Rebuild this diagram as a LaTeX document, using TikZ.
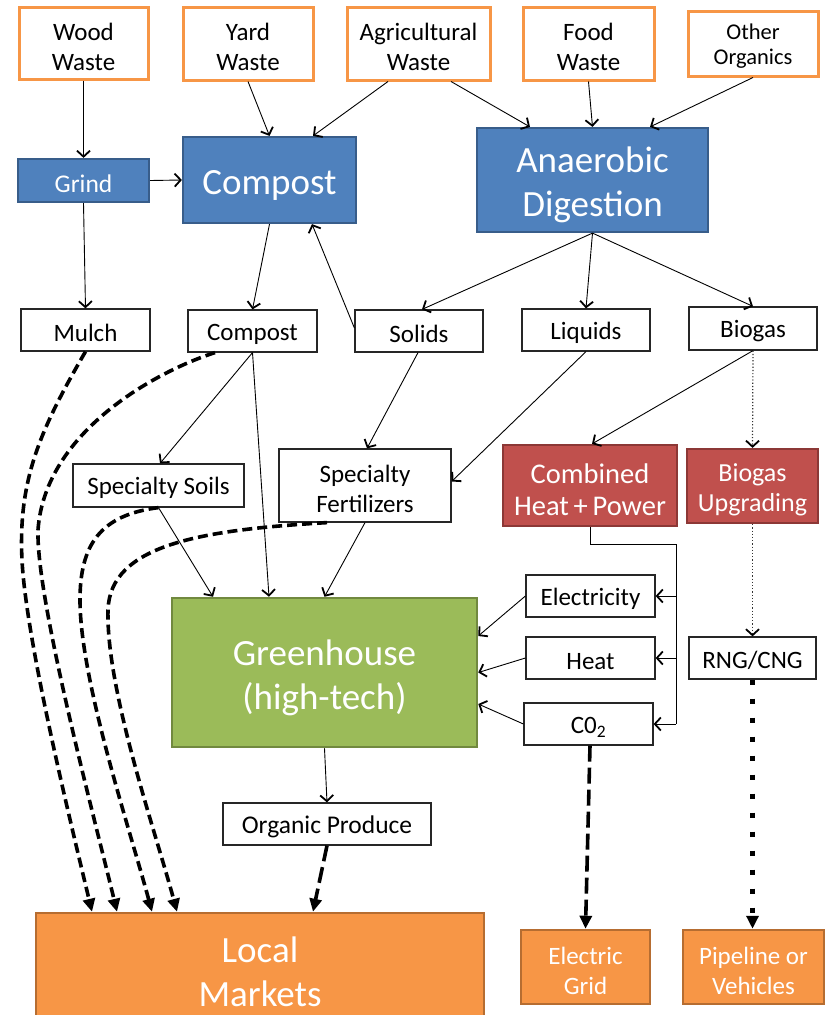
\documentclass[tikz,border=0pt]{standalone}
\usepackage{fontspec}
\setmainfont{Carlito}
\usetikzlibrary{arrows.meta,calc}
\definecolor{orng}{HTML}{F79646}
\definecolor{orngdk}{HTML}{B66D31}
\definecolor{blu}{HTML}{4F81BD}
\definecolor{bludk}{HTML}{385D8A}
\definecolor{redf}{HTML}{C0504D}
\definecolor{reddk}{HTML}{8C3836}
\definecolor{grn}{HTML}{9BBB59}
\definecolor{grndk}{HTML}{71893F}
\newcommand\fl{\rule{0pt}{0.97em}}
\begin{document}
\begin{tikzpicture}[x=1pt,y=-1pt,
  box/.style={draw=black!85, rectangle, inner sep=0pt, align=center,
    font=\fontsize{25}{30}\selectfont, line width=1.2pt,
    execute at begin node={\rule{0pt}{0.92em}}},
  srcbox/.style={box, draw=orng, line width=3pt},
  bluebox/.style={box, fill=blu, draw=bludk, line width=2.2pt, text=white},
  redbox/.style={box, fill=redf, draw=reddk, line width=2.2pt, text=white},
  grnbox/.style={box, fill=grn, draw=grndk, line width=2.5pt, text=white},
  orbox/.style={box, fill=orng, draw=orngdk, line width=2.5pt, text=white},
  bigtxt/.style={font=\fontsize{37}{44}\selectfont},
  arr/.style={-{Straight Barb[length=6pt,width=13pt,line width=1.8pt]}, line width=0.9pt},
  dotarr/.style={-{Straight Barb[length=6pt,width=13pt,line width=1.8pt,color=black]}, draw=black!80, line width=1.2pt, dash pattern=on 1.2pt off 2pt},
  dsh/.style={-{Triangle[length=13pt,width=12pt]}, line width=3.6pt, dash pattern=on 10pt off 5pt},
  dshlong/.style={dsh, dash pattern=on 16pt off 6pt},
  dotthick/.style={-{Triangle[length=13pt,width=12pt]}, line width=5pt, dash pattern=on 5pt off 14pt},
]
\useasboundingbox (0,0) rectangle (827,1015);
\clip (0,0) rectangle (827,1015);

% sources
\node[srcbox, minimum width=129pt, minimum height=72pt] (wood) at (83.5,43) {\fl Wood\\Waste};
\node[srcbox, minimum width=130pt, minimum height=73pt] (yard) at (248,43.5) {\fl Yard\\Waste};
\node[srcbox, minimum width=143pt, minimum height=73pt] (agri) at (418.5,43.5) {\fl Agricultural\\Waste};
\node[srcbox, minimum width=131pt, minimum height=73pt] (food) at (588.5,43.5) {\fl Food\\Waste};
\node[srcbox, minimum width=130pt, minimum height=65pt, font=\fontsize{22.5}{25}\selectfont] (other) at (753,43.5) {\fl Other\\Organics};

% processes
\node[bluebox, minimum width=131pt, minimum height=43pt, font=\fontsize{25.5}{30}\selectfont] (grind) at (83.5,180.5) {Grind};
\node[bluebox, bigtxt, minimum width=173pt, minimum height=86pt] (compost) at (269.5,180) {Compost};
\node[bluebox, bigtxt, minimum width=231pt, minimum height=104pt] (ad) at (592.5,180) {\fl Anaerobic\\Digestion};

% products
\node[box, minimum width=129pt, minimum height=42pt] (mulch) at (85.5,330) {Mulch};
\node[box, minimum width=129pt, minimum height=42pt] (compostS) at (252.5,331) {Compost};
\node[box, minimum width=128pt, minimum height=42pt] (solids) at (419,331) {Solids};
\node[box, minimum width=128pt, minimum height=42pt] (liquids) at (586,330) {Liquids};
\node[box, minimum width=128pt, minimum height=43pt] (biogas) at (753,328.5) {Biogas};

\node[box, minimum width=171pt, minimum height=43pt] (soils) at (158.5,485.5) {Specialty Soils};
\node[box, minimum width=172pt, minimum height=73pt] (fert) at (365,485.5) {\fl Specialty\\Fertilizers};
\node[redbox, minimum width=174pt, minimum height=81pt, font=\fontsize{28.5}{32}\selectfont] (chp) at (590,485.5) {\fl Combined\\Heat\,+\,Power};
\node[redbox, minimum width=131pt, minimum height=74pt, font=\fontsize{26}{30}\selectfont] (upg) at (752.5,486) {\fl Biogas\\Upgrading};

\node[grnbox, bigtxt, minimum width=305pt, minimum height=149pt] (gh) at (324.5,672.5) {\fl Greenhouse\\(high-tech)};
\node[box, minimum width=129pt, minimum height=42pt] (elec) at (590.5,596) {Electricity};
\node[box, minimum width=129pt, minimum height=42pt] (heat) at (590.5,658) {Heat};
\node[box, minimum width=129pt, minimum height=42pt] (co2) at (588.5,724) {C0\textsubscript{2}};
\node[box, minimum width=127pt, minimum height=42pt] (rng) at (752.5,658) {RNG/CNG};

\node[box, minimum width=208pt, minimum height=42pt, font=\fontsize{25.5}{30}\selectfont] (produce) at (327,824) {Organic Produce};

% markets
\node[orbox, bigtxt, minimum width=448pt, minimum height=107pt] (local) at (260,966.5) {\fl Local\\Markets};
\node[orbox, minimum width=129pt, minimum height=74pt] (egrid) at (585.5,967) {\fl Electric\\Grid};
\node[orbox, minimum width=141pt, minimum height=74pt] (pipe) at (753.5,967) {\fl Pipeline or\\Vehicles};

% thin arrows
\draw[arr] (wood.south) -- (grind.north);
\draw[arr] (yard.south) -- (compost.north);
\draw[arr] ([xshift=-30.5pt]agri.south) -- ([xshift=43.5pt]compost.north);
\draw[arr] (grind.east) -- (compost.west);
\draw[arr] (grind.south) -- (mulch.north);
\draw[arr] (compost.south) -- (compostS.north);
\draw[arr] ([yshift=3pt]solids.west) -- ([xshift=42.5pt]compost.south);
\draw[arr] ([xshift=32.5pt]agri.south) -- ([xshift=-62.5pt]ad.north);
\draw[arr] (food.south) -- (ad.north);
\draw[arr] (other.south) -- ([xshift=57.5pt]ad.north);
\draw[arr] (ad.south) -- ([xshift=3pt]solids.north);
\draw[arr] (ad.south) -- (liquids.north);
\draw[arr] (ad.south) -- (biogas.north);
\draw[arr] (biogas.south) -- ([xshift=2pt]chp.north);
\draw[dotarr] (biogas.south) -- (upg.north);
\draw[dotarr] (upg.south) -- (rng.north);
\draw[arr] (liquids.south) -- ([yshift=4pt]fert.east);
\draw[arr] (compostS.south) -- ([xshift=1.5pt]soils.north);
\draw[arr] (compostS.south) -- ([xshift=-55.5pt]gh.north);
\draw[arr] ([xshift=-1pt]solids.south) -- ([xshift=2pt]fert.north);
\draw[arr] (soils.south) -- ([xshift=-111.5pt]gh.north);
\draw[arr] (fert.south) -- (gh.north);
\draw[arr] (elec.west) -- ([yshift=36.5pt]gh.east);
\draw[arr] (heat.west) -- (gh.east);
\draw[arr] (co2.west) -- ([yshift=-31.5pt]gh.east);
\draw[arr] (gh.south) -- (produce.north);

% CHP bus
\coordinate (busT) at (676,544);
\coordinate (busB) at (676,724);
\draw[line width=0.9pt] (chp.south) |- (busT) -- (busB);
\draw[arr] (busT |- elec.east) -- (elec.east);
\draw[arr] (busT |- heat.east) -- (heat.east);
\draw[arr] (busB) -- (co2.east);

% dashed flows to markets
\draw[dsh] (mulch.south) .. controls (40,430) and (18,480) .. (22,560)
  .. controls (26,640) and (70,820) .. ([xshift=-168pt]local.north);
\draw[dsh] ([xshift=-37.5pt]compostS.south) .. controls (160,370) and (45,430) .. (38,530)
  .. controls (36,600) and (95,820) .. ([xshift=-143pt]local.north);
\draw[dsh] (soils.south) .. controls (100,515) and (80,545) .. (80,600)
  .. controls (80,680) and (130,830) .. ([xshift=-108pt]local.north);
\draw[dsh] ([xshift=-38pt]fert.south) .. controls (200,530) and (110,545) .. (108,610)
  .. controls (106,690) and (155,830) .. ([xshift=-83pt]local.north);
\draw[dshlong] (produce.south) -- ([xshift=53pt]local.north);
\draw[dshlong] ([xshift=1.5pt]co2.south) -- (egrid.north);
\draw[dotthick] (rng.south) -- ([xshift=-1pt]pipe.north);
\end{tikzpicture}
\end{document}
